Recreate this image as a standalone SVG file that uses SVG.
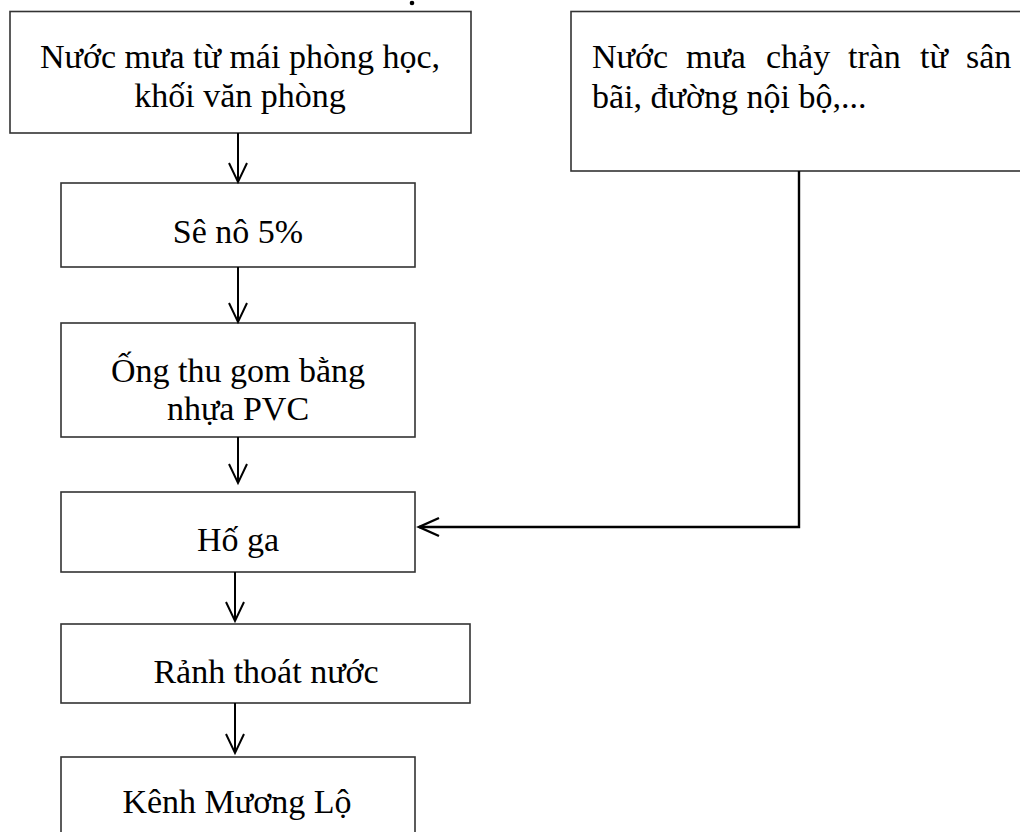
<svg xmlns="http://www.w3.org/2000/svg" width="1020" height="832" viewBox="0 0 1020 832">
<style>
.box{fill:#fff;stroke:#333;stroke-width:1.6}
.t{font-family:"Liberation Serif","Times New Roman",serif;font-size:34px;fill:#000}
.c{text-anchor:middle}
.ln{fill:none;stroke:#000;stroke-width:2}
.ah{fill:none;stroke:#000;stroke-width:2;stroke-linejoin:miter}
</style>
<rect width="1020" height="832" fill="#fff"/>
<circle cx="412" cy="3" r="2.3" fill="#000"/>
<g id="n1">
<rect class="box" x="10" y="11.5" width="461" height="121.5"/>
<text class="t c" x="240" y="68">Nước mưa từ mái phòng học,</text>
<text class="t c" x="240" y="107">khối văn phòng</text>
</g>
<g id="n2">
<rect class="box" x="571" y="11.5" width="460" height="159.5"/>
<text class="t" y="68"><tspan x="592">Nước</tspan><tspan x="686">mưa</tspan><tspan x="766">chảy</tspan><tspan x="848">tràn</tspan><tspan x="920">từ</tspan><tspan x="966">sân</tspan></text>
<text class="t" x="592" y="108">bãi, đường nội bộ,...</text>
</g>
<g id="n3">
<rect class="box" x="61" y="183" width="354" height="84"/>
<text class="t c" x="238" y="243">Sê nô 5%</text>
</g>
<g id="n4">
<rect class="box" x="61" y="323" width="354" height="114"/>
<text class="t c" x="238" y="382">Ống thu gom bằng</text>
<text class="t c" x="238" y="420">nhựa PVC</text>
</g>
<g id="n5">
<rect class="box" x="61" y="492" width="354" height="80"/>
<text class="t c" x="238" y="551">Hố ga</text>
</g>
<g id="n6">
<rect class="box" x="61" y="624" width="409" height="79"/>
<text class="t c" x="266" y="683">Rảnh thoát nước</text>
</g>
<g id="n7">
<rect class="box" x="61" y="757" width="354" height="90"/>
<text class="t c" x="237" y="813">Kênh Mương Lộ</text>
</g>
<g id="connectors">
<path class="ln" d="M238 133V182"/><path class="ah" d="M229 163L238 182L247 163"/>
<path class="ln" d="M238 267V322"/><path class="ah" d="M229 303L238 322L247 303"/>
<path class="ln" d="M238 437V483"/><path class="ah" d="M229 464L238 483L247 464"/>
<path class="ln" d="M235 572V621"/><path class="ah" d="M226 602L235 621L244 602"/>
<path class="ln" d="M235 703V753"/><path class="ah" d="M226 734L235 753L244 734"/>
<path class="ln" d="M799 171V527H419" style="stroke-width:2.4"/><path class="ah" d="M439 518L419 527L439 536" style="stroke-width:2.4"/>
</g>
</svg>
